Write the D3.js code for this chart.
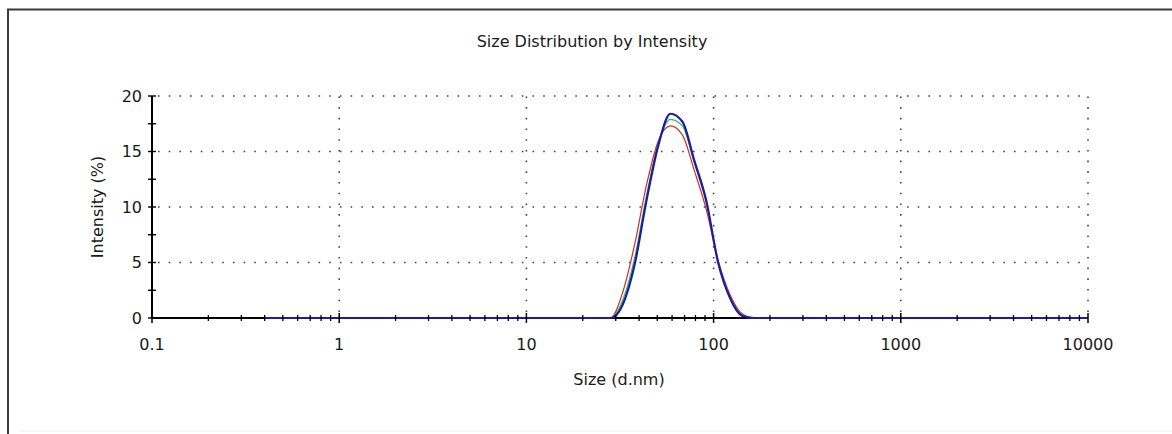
<!DOCTYPE html>
<html>

<head>
  <meta charset="utf-8">
  <title>Size Distribution by Intensity</title>
  <style>
    body {
      margin: 0;
      background: #fff;
    }

    text {
      font-family: "DejaVu Sans", "Liberation Sans", Arial, sans-serif;
      font-size: 16px;
      fill: #1a1a1a;
    }

    .grid {
      stroke: #444;
      stroke-width: 1.6;
      stroke-dasharray: 1.6, 9.1;
    }
  </style>
</head>

<body>
  <svg width="1172" height="434"></svg>

  <script src="https://cdn.jsdelivr.net/npm/d3@7"></script>
  <script>
    // Tamanhos (d.nm) - classes do Zetasizer
    var sizes = [0.4, 0.4632, 0.5365, 0.6213, 0.7195, 0.8332, 0.9649, 1.117, 1.294, 1.499,
      1.736, 2.01, 2.328, 2.696, 3.122, 3.615, 4.187, 4.849, 5.615, 6.503,
      7.531, 8.721, 10.1, 11.7, 13.54, 15.69, 18.17, 21.04, 24.36, 28.21,
      32.67, 37.84, 43.82, 50.75, 58.77, 68.06, 78.82, 91.28, 105.7, 122.4,
      141.8, 164.2, 190.1, 220.2, 255, 295.3, 342, 396.1, 458.7, 531.2,
      615.1, 712.4, 825, 955.4, 1106, 1281, 1484, 1718, 1990, 2305,
      2669, 3091, 3580, 4145, 4801, 5560, 6439, 7456, 8635, 10000];

    // Intensidade (%) de cada medida: zeros antes e depois do pico
    var peakStart = 29; // indice de 28.21
    var redPeak = [0, 2.3, 6.6, 12.0, 16.0, 17.3, 16.5, 13.3, 9.8, 5.2, 2.1, 0.4, 0];
    var greenPeak = [0, 1.6, 5.4, 11.0, 15.8, 17.9, 17.3, 14.0, 10.4, 5.1, 1.9, 0.3, 0];
    var bluePeak = [0, 1.2, 4.8, 10.6, 15.6, 18.4, 17.7, 14.2, 10.6, 5.0, 1.8, 0.2, 0];

    var xTicks = [0.1, 1, 10, 100, 1000, 10000];
    var yTicks = [0, 5, 10, 15, 20];

    function fullSeries(peak) {
      return sizes.map(function (s, i) {
        var j = i - peakStart;
        return { size: s, value: (j >= 0 && j < peak.length) ? peak[j] : 0 };
      });
    }

    var series = [
      { name: "Record 3", color: "#d42a2a", width: 1.2, data: fullSeries(redPeak) },
      { name: "Record 2", color: "#22c070", width: 1.2, data: fullSeries(greenPeak) },
      { name: "Record 1", color: "#1c1c9c", width: 2.2, data: fullSeries(bluePeak) }
    ];

    var svg = d3.select("svg");

    var x = d3.scaleLog().domain([0.1, 10000]).range([152, 1088]);
    var y = d3.scaleLinear().domain([0, 20]).range([318, 96]);

    // Moldura (so topo e esquerda aparecem)
    svg.append("path")
      .attr("d", "M8,434 L8,9.5 L1172,9.5")
      .attr("fill", "none")
      .attr("stroke", "#3a3a3a")
      .attr("stroke-width", 2);
    svg.append("line")
      .attr("x1", 20).attr("x2", 1172).attr("y1", 431).attr("y2", 431)
      .attr("stroke", "#eee");

    // Titulo
    svg.append("text")
      .attr("x", 592).attr("y", 47)
      .attr("text-anchor", "middle")
      .text("Size Distribution by Intensity");

    // Grade pontilhada
    svg.selectAll(".hgrid")
      .data(yTicks.slice(1))
      .enter().append("line")
      .attr("class", "grid")
      .attr("x1", x(0.1) + 6).attr("x2", x(10000))
      .attr("y1", function (d) { return y(d); })
      .attr("y2", function (d) { return y(d); });

    svg.selectAll(".vgrid")
      .data(xTicks.slice(1))
      .enter().append("line")
      .attr("class", "grid")
      .attr("x1", function (d) { return x(d); })
      .attr("x2", function (d) { return x(d); })
      .attr("y1", y(0) - 6).attr("y2", y(20));

    // Eixo Y
    var yMinor = d3.range(0, 20.01, 2.5);
    svg.append("line")
      .attr("x1", x(0.1)).attr("x2", x(0.1))
      .attr("y1", y(0)).attr("y2", y(20))
      .attr("stroke", "#000").attr("stroke-width", 2);
    svg.selectAll(".ytick")
      .data(yMinor)
      .enter().append("line")
      .attr("x1", x(0.1) - 4).attr("x2", x(0.1) + 4)
      .attr("y1", function (d) { return y(d); })
      .attr("y2", function (d) { return y(d); })
      .attr("stroke", "#000").attr("stroke-width", 1.4);
    svg.selectAll(".ylabel")
      .data(yTicks)
      .enter().append("text")
      .attr("x", 142)
      .attr("y", function (d) { return y(d); })
      .attr("dy", "0.36em")
      .attr("text-anchor", "end")
      .text(function (d) { return d; });

    svg.append("text")
      .attr("transform", "translate(103," + ((y(0) + y(20)) / 2) + ") rotate(-90)")
      .attr("text-anchor", "middle")
      .text("Intensity (%)");

    // Eixo X
    svg.append("line")
      .attr("x1", x(0.1)).attr("x2", x(10000))
      .attr("y1", y(0)).attr("y2", y(0))
      .attr("stroke", "#000").attr("stroke-width", 2);

    var minor = [];
    xTicks.slice(0, -1).forEach(function (d) {
      for (var k = 2; k < 10; k++) minor.push(d * k);
    });

    // Curvas (suavizadas)
    var line = d3.line()
      .curve(d3.curveMonotoneX)
      .x(function (d) { return x(d.size); })
      .y(function (d) { return y(d.value); });

    svg.selectAll(".curve")
      .data(series)
      .enter().append("path")
      .attr("class", "curve")
      .attr("d", function (d) { return line(d.data); })
      .attr("fill", "none")
      .attr("stroke", function (d) { return d.color; })
      .attr("stroke-width", function (d) { return d.width; })
      .attr("stroke-linejoin", "round");

    svg.selectAll(".xminor")
      .data(minor)
      .enter().append("line")
      .attr("x1", function (d) { return x(d); })
      .attr("x2", function (d) { return x(d); })
      .attr("y1", y(0) - 3).attr("y2", y(0) + 3)
      .attr("stroke", "#000").attr("stroke-width", 1.3);
    svg.selectAll(".xmajor")
      .data(xTicks)
      .enter().append("line")
      .attr("x1", function (d) { return x(d); })
      .attr("x2", function (d) { return x(d); })
      .attr("y1", y(0) - 5).attr("y2", y(0) + 5)
      .attr("stroke", "#000").attr("stroke-width", 1.5);

    svg.selectAll(".xlabel")
      .data(xTicks)
      .enter().append("text")
      .attr("x", function (d) { return x(d); })
      .attr("y", 350)
      .attr("text-anchor", "middle")
      .text(function (d) { return d; });

    svg.append("text")
      .attr("x", 619).attr("y", 385)
      .attr("text-anchor", "middle")
      .text("Size (d.nm)");
  </script>
</body>

</html>
